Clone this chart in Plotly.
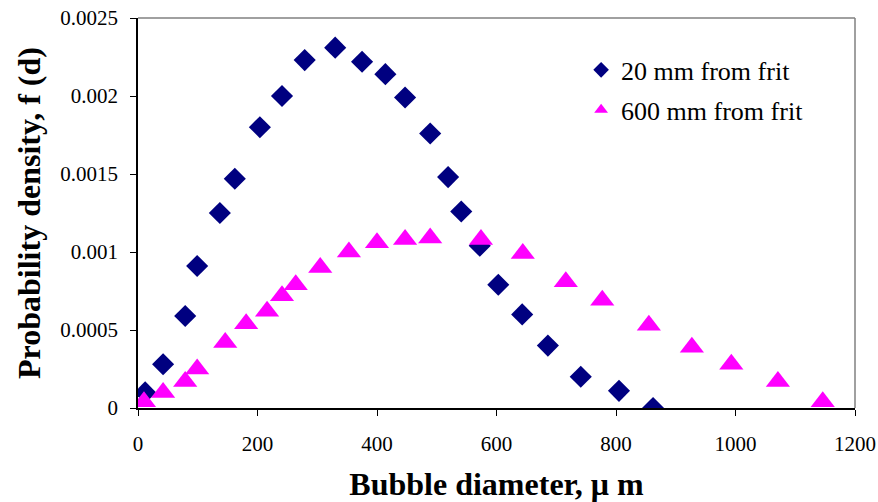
import plotly.graph_objects as go

x_20 = [12, 42, 79, 99, 137, 162, 204, 241, 279, 330, 375, 414, 447, 489, 519, 541, 572, 603, 643, 686, 741, 805, 862]
y_20 = [0.0001, 0.00028, 0.00059, 0.00091, 0.00125, 0.00147, 0.0018, 0.002, 0.00223, 0.00231, 0.00222, 0.00214,
        0.00199, 0.00176, 0.00148, 0.00126, 0.00104, 0.00079, 0.0006, 0.0004, 0.0002, 0.00011, 0.0]

x_600 = [10, 42, 79, 99, 146, 181, 216, 241, 264, 305, 353, 400, 447, 489, 574, 644, 716, 777, 855, 927, 993, 1071, 1146]
y_600 = [0.00004, 0.0001, 0.00017, 0.00025, 0.00042, 0.00054, 0.00062, 0.00072, 0.00079, 0.0009, 0.001, 0.00106,
         0.00108, 0.00109, 0.00108, 0.00099, 0.00081, 0.00069, 0.00053, 0.00039, 0.00028, 0.00017, 0.00004]

y_ticks = [0, 0.0005, 0.001, 0.0015, 0.002, 0.0025]
y_tick_labels = ["0", "0.0005", "0.001", "0.0015", "0.002", "0.0025"]
x_ticks = [0, 200, 400, 600, 800, 1000, 1200]

font_family = "Liberation Serif, Times New Roman, serif"

fig = go.Figure()
fig.add_trace(go.Scatter(x=x_20, y=y_20, mode="markers", name="20 mm from frit", legendgroup="a",
                         marker=dict(symbol="diamond", size=17, color="#000080")))
fig.add_trace(go.Scatter(x=x_600, y=y_600, mode="markers", name="600 mm from frit", legendgroup="b",
                         marker=dict(symbol="triangle-up", size=21, color="#FF00FF")))

fig.update_layout(
    width=878, height=502,
    margin=dict(l=138, r=23, t=18, b=94),
    paper_bgcolor="white", plot_bgcolor="white",
    font=dict(family=font_family, size=21, color="black"),
    showlegend=True,
    legend=dict(x=0.618, y=0.927, xanchor="left", yanchor="top",
                font=dict(size=26, family=font_family), bgcolor="rgba(0,0,0,0)",
                itemsizing="constant", traceorder="grouped", tracegroupgap=3),
    xaxis=dict(range=[0, 1200], tickvals=x_ticks, showgrid=False, zeroline=False, automargin=False,
               showline=True, linecolor="black", linewidth=1.5, ticks="outside", ticklen=6,
               tickcolor="black", tickfont=dict(size=21), ticklabelstandoff=10,
               title=dict(text="<b>Bubble diameter, μ m</b>", font=dict(size=32), standoff=20)),
    yaxis=dict(range=[0, 0.0025], tickvals=y_ticks, ticktext=y_tick_labels, showgrid=False, zeroline=False,
               automargin=False,
               showline=True, linecolor="black", linewidth=1.5, ticks="outside", ticklen=6,
               tickcolor="black", tickfont=dict(size=21), ticklabelstandoff=8,
               title=dict(text="<b>Probability density, f (d)</b>", font=dict(size=32), standoff=10)),
    shapes=[
        dict(type="line", xref="paper", yref="paper", x0=0, x1=1, y0=1, y1=1,
             line=dict(color="#808080", width=1.5)),
        dict(type="line", xref="paper", yref="paper", x0=1, x1=1, y0=0, y1=1,
             line=dict(color="#808080", width=1.5)),
    ],
)

fig.write_html("out.html")
